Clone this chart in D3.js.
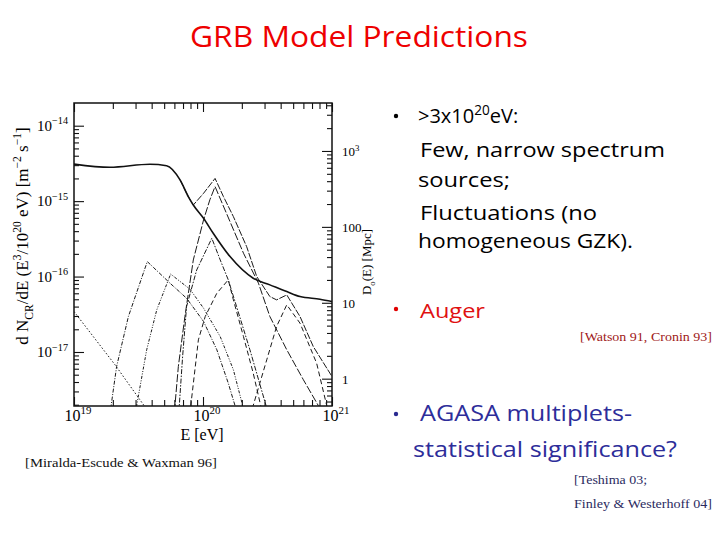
<!DOCTYPE html>
<html><head><meta charset="utf-8">
<script src="https://cdn.jsdelivr.net/npm/d3@7"></script>
<style>body{margin:0;background:#fff}</style>
</head><body>
<svg id="c" width="720" height="540"></svg>
<script>
// ---------- data (E in eV, flux in m^-2 s^-1, D in Mpc) ----------
const xMajorTicks = [1e19, 1e20, 1e21];
const xTickLabels = [["10","19"],["10","20"],["10","21"]];
const yLeftMajorTicks = [1e-14, 1e-15, 1e-16, 1e-17];
const yLeftTickLabels = [["10","−14"],["10","−15"],["10","−16"],["10","−17"]];
const yRightMajorTicks = [1, 10, 100, 1000];
const yRightTickLabels = [["1",""],["10",""],["100",""],["10","3"]];

const curveMean = [[1.0e19,3.10e-15],[1.90e19,2.81e-15],[3.88e19,3.08e-15],[5.22e19,2.95e-15],[6.64e19,1.91e-15],[7.69e19,1.15e-15],[8.41e19,8.89e-16],[1.01e20,5.93e-16],[1.20e20,3.75e-16],[1.62e20,1.84e-16],[2.45e20,9.51e-17],[3.30e20,7.76e-17],[4.46e20,6.32e-17],[5.65e20,5.43e-17],[8.07e20,5.01e-17],[1.0e21,4.67e-17]];
const curveG = [[6.64e19,1.91e-15],[7.69e19,1.15e-15],[8.41e19,8.89e-16],[1.01e20,1.27e-15],[1.24e20,2.00e-15],[1.44e20,1.15e-15],[1.72e20,6.24e-16],[2.18e20,2.49e-16],[2.61e20,1.00e-16],[3.30e20,5.43e-17],[3.72e20,4.91e-17],[4.46e20,5.71e-17],[5.65e20,2.95e-17],[7.16e20,1.18e-17],[1.0e21,4.73e-18]];
const curveD = [[6.0e19,1.6e-18],[6.44e19,6.43e-18],[7.24e19,2.95e-17],[8.41e19,1.66e-16],[1.01e20,5.64e-16],[1.13e20,1.04e-15],[1.24e20,1.56e-15],[1.52e20,6.90e-16],[2.06e20,2.04e-16],[2.69e20,8.17e-17],[3.30e20,2.95e-17],[4.46e20,1.07e-17],[6.00e20,4.28e-18],[7.83e20,1.95e-18],[8.5e20,1.4e-18]];
const curveE = [[6.5e19,1.6e-18],[6.95e19,8.71e-18],[7.46e19,4.01e-17],[8.93e19,1.22e-16],[1.17e20,3.22e-16],[1.36e20,1.66e-16],[1.57e20,9.04e-17],[1.82e20,4.01e-17],[2.31e20,1.07e-17],[3.08e20,1.95e-18],[3.3e20,1.4e-18]];
const curveF = [[7.9e19,1.5e-18],[9.21e19,1.45e-17],[1.04e20,2.95e-17],[1.28e20,6.01e-17],[1.57e20,9.04e-17],[1.72e20,4.91e-17],[2.06e20,1.60e-17],[2.45e20,5.25e-18],[2.80e20,1.95e-18],[2.95e20,1.4e-18]];
const curveH = [[2.35e20,1.4e-18],[2.45e20,1.95e-18],[3.12e20,7.87e-18],[3.72e20,2.18e-17],[4.46e20,4.22e-17],[5.65e20,2.41e-17],[7.60e20,7.11e-18],[9.10e20,1.95e-18],[9.6e20,1.4e-18]];
const curveB = [[1.90e19,1.4e-18],[1.94e19,1.95e-18],[2.14e19,6.43e-18],[2.64e19,2.95e-17],[3.70e19,1.58e-16],[5.55e19,8.17e-17],[7.46e19,5.16e-17],[1.01e20,2.54e-17],[1.28e20,1.07e-17],[1.57e20,3.86e-18],[1.77e20,1.95e-18],[1.85e20,1.4e-18]];
const curveC = [[3.0e19,1.4e-18],[3.06e19,1.95e-18],[3.66e19,1.07e-17],[4.38e19,3.61e-17],[5.61e19,1.08e-16],[7.93e19,6.79e-17],[1.01e20,3.81e-17],[1.36e20,1.60e-17],[1.72e20,5.81e-18],[2.03e20,1.95e-18],[2.1e20,1.4e-18]];
const curveA = [[1.0e19,3.44e-17],[2.08e19,6.76e-18],[3.49e19,1.95e-18],[3.8e19,1.4e-18]];

// ---------- layout ----------
const svg = d3.select("#c");
const L = 74, R = 332, T = 103, B = 406;
const x = d3.scaleLog().domain([1e19, 1e21]).range([L, R]);
const yL = d3.scaleLog().domain([Math.pow(10,-17.716), Math.pow(10,-13.699)]).range([B, T]);
const yR = d3.scaleLog().domain([Math.pow(10,-0.36), Math.pow(10,3.632)]).range([B, T]);
const serif = "'Liberation Serif','DejaVu Serif',serif";
const sans = "'Open Sans','Noto Sans',sans-serif";

function minors(lo, hi) {
  const out = [];
  for (let d = Math.floor(Math.log10(lo)) - 1; d <= Math.ceil(Math.log10(hi)); d++)
    for (let m = 2; m <= 9; m++) { const v = m * Math.pow(10, d); if (v > lo && v < hi) out.push(v); }
  return out;
}
function rich(sel, segs, size) {
  let shift = 0;
  segs.forEach(s => {
    const target = s.k === "sup" ? -0.42 * size : s.k === "sub" ? 0.28 * size : 0;
    sel.append("tspan").attr("dy", target - shift).attr("font-size", s.k ? size * 0.68 : size).text(s.t);
    shift = target;
  });
}

svg.append("clipPath").attr("id", "pc").append("rect").attr("x", L).attr("y", T).attr("width", R - L).attr("height", B - T);

// ---------- axes / ticks ----------
function styleAxis(g) { g.select(".domain").remove(); g.selectAll("line").attr("stroke", "#111").attr("stroke-width", 1.1); g.selectAll("text").remove(); }
svg.append("g").attr("transform", `translate(${L},0)`).call(d3.axisLeft(yL).tickValues(minors(...yL.domain())).tickSize(-5)).call(styleAxis);
svg.append("g").attr("transform", `translate(${L},0)`).call(d3.axisLeft(yL).tickValues(yLeftMajorTicks).tickSize(-10)).call(styleAxis);
svg.append("g").attr("transform", `translate(${R},0)`).call(d3.axisRight(yR).tickValues(minors(...yR.domain())).tickSize(-5)).call(styleAxis);
svg.append("g").attr("transform", `translate(${R},0)`).call(d3.axisRight(yR).tickValues(yRightMajorTicks).tickSize(-10)).call(styleAxis);
svg.append("g").attr("transform", `translate(0,${T})`).call(d3.axisTop(x).tickValues(minors(1e19, 1e21)).tickSize(-6)).call(styleAxis);
svg.append("g").attr("transform", `translate(0,${T})`).call(d3.axisTop(x).tickValues(xMajorTicks).tickSize(-9)).call(styleAxis);
svg.append("g").attr("transform", `translate(0,${B})`).call(d3.axisBottom(x).tickValues(minors(1e19, 1e21)).tickSize(-6)).call(styleAxis);
svg.append("g").attr("transform", `translate(0,${B})`).call(d3.axisBottom(x).tickValues(xMajorTicks).tickSize(-9)).call(styleAxis);

svg.append("rect").attr("x", L).attr("y", T).attr("width", R - L).attr("height", B - T)
  .attr("fill", "none").attr("stroke", "#111").attr("stroke-width", 1.5);

// tick labels
yLeftMajorTicks.forEach((v, i) => {
  const t = svg.append("text").attr("x", 68).attr("y", yL(v) + 5).attr("text-anchor", "end")
    .attr("font-family", serif).attr("fill", "#000");
  rich(t, [{t: yLeftTickLabels[i][0]}, {t: yLeftTickLabels[i][1], k: "sup"}], 15);
});
yRightMajorTicks.forEach((v, i) => {
  const t = svg.append("text").attr("x", 342).attr("y", yR(v) + 5)
    .attr("font-family", serif).attr("fill", "#000");
  const segs = [{t: yRightTickLabels[i][0]}];
  if (yRightTickLabels[i][1]) segs.push({t: yRightTickLabels[i][1], k: "sup"});
  rich(t, segs, 13);
});
xMajorTicks.forEach((v, i) => {
  const t = svg.append("text").attr("x", x(v) + 4).attr("y", 421).attr("text-anchor", "middle")
    .attr("font-family", serif).attr("fill", "#000");
  rich(t, [{t: xTickLabels[i][0]}, {t: xTickLabels[i][1], k: "sup"}], 16);
});

// axis titles
svg.append("text").attr("x", 202).attr("y", 440).attr("text-anchor", "middle")
  .attr("font-family", serif).attr("font-size", 16).attr("fill", "#000").text("E  [eV]");
const ylab = svg.append("text").attr("transform", "translate(28,236) rotate(-90)").attr("text-anchor", "middle")
  .attr("font-family", serif).attr("fill", "#000");
rich(ylab, [{t: "d N"}, {t: "CR", k: "sub"}, {t: "/dE  (E"}, {t: "3", k: "sup"}, {t: "/10"}, {t: "20", k: "sup"}, {t: " eV)  [m"}, {t: "−2", k: "sup"}, {t: " s"}, {t: "−1", k: "sup"}, {t: "]"}], 17);
const yrlab = svg.append("text").attr("transform", "translate(371,262) rotate(-90)").attr("text-anchor", "middle")
  .attr("font-family", serif).attr("fill", "#000");
rich(yrlab, [{t: "D"}, {t: "o", k: "sub"}, {t: "(E)  [Mpc]"}], 13);

// ---------- curves ----------
const line = d3.line().x(d => x(d[0])).y(d => yL(d[1]));
const lineSmooth = d3.line().x(d => x(d[0])).y(d => yL(d[1])).curve(d3.curveMonotoneX);
const plot = svg.append("g").attr("clip-path", "url(#pc)");
const thin = [
  {data: curveA, dash: "1.5,2"},
  {data: curveB, dash: "4,1.5,1,1.5"},
  {data: curveC, dash: "3,1.5,1,1.5,1,1.5"},
  {data: curveD, dash: "8,2"},
  {data: curveE, dash: "5,1.5,1.5,1.5"},
  {data: curveF, dash: "5,3"},
  {data: curveG, dash: "7,1.5"},
  {data: curveH, dash: "5,3"}
];
thin.forEach(s => plot.append("path").attr("d", line(s.data)).attr("fill", "none")
  .attr("stroke", "#1a1a1a").attr("stroke-width", 1).attr("stroke-dasharray", s.dash));
plot.append("path").attr("d", lineSmooth(curveMean)).attr("fill", "none")
  .attr("stroke", "#111").attr("stroke-width", 1.6);

// ---------- slide text ----------
svg.append("text").attr("x", 359).attr("y", 47).attr("text-anchor", "middle")
  .attr("font-family", sans).attr("font-size", 30).attr("fill", "#ee0000")
  .attr("textLength", 338).attr("lengthAdjust", "spacingAndGlyphs").text("GRB Model Predictions");

function bullet(yc, color) {
  svg.append("circle").attr("cx", 396).attr("cy", yc).attr("r", 2.2).attr("fill", color);
}
function txt(xp, yp, s, size, color, len, fam) {
  const t = svg.append("text").attr("x", xp).attr("y", yp).attr("font-family", fam || sans)
    .attr("font-size", size).attr("fill", color).text(s);
  if (len) t.attr("textLength", len).attr("lengthAdjust", "spacingAndGlyphs");
  return t;
}
bullet(116, "#000");
const t1 = svg.append("text").attr("x", 418).attr("y", 123).attr("font-family", sans).attr("fill", "#000");
rich(t1, [{t: ">3x10"}, {t: "20", k: "sup"}, {t: "eV:"}], 20);
txt(420, 157, "Few, narrow spectrum", 20, "#000", 245);
txt(418, 187, "sources;", 20, "#000", 92);
txt(420, 220, "Fluctuations (no", 20, "#000", 177);
txt(418, 248, "homogeneous GZK).", 20, "#000", 215);
bullet(309, "#e00000");
txt(420, 318, "Auger", 20, "#e01010", 65);
txt(580, 341, "[Watson 91, Cronin 93]", 13, "#a01818", 132, serif);
bullet(414, "#2a2a90");
txt(420, 421, "AGASA multiplets-", 22, "#2d2d9a", 212);
txt(413, 457, "statistical significance?", 22, "#2d2d9a", 264);
txt(574, 484, "[Teshima 03;", 13, "#2a2a60", 73, serif);
txt(574, 508, "Finley & Westerhoff 04]", 13, "#2a2a60", 138, serif);
txt(25, 467, "[Miralda-Escude & Waxman 96]", 13, "#111", 192, serif);
</script>
</body></html>
